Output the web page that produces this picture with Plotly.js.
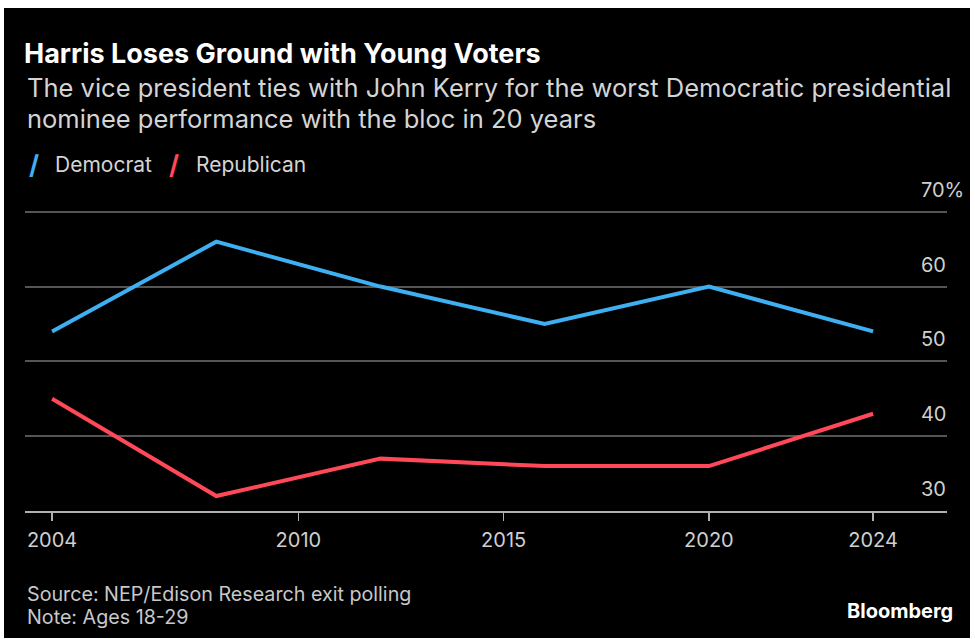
<!DOCTYPE html>
<html><head><meta charset="utf-8">
<script src="https://cdn.plot.ly/plotly-3.0.1.min.js"></script>
<style>html,body{margin:0;padding:0;background:#fff;} #chart{position:absolute;left:4px;top:8px;width:966px;height:630px;}</style>
</head><body><div id="chart"></div>
<script>
const years = [2004, 2008, 2012, 2016, 2020, 2024];
const democrat = [54, 66, 60, 55, 60, 54];
const republican = [45, 32, 37, 36, 36, 43];
const xTickVals = [2004, 2010, 2015, 2020, 2024];
const xTickText = ['2004', '2010', '2015', '2020', '2024'];
const yTickVals = [30, 40, 50, 60, 70];
const yTickText = ['30', '40', '50', '60', '70%'];
const seriesNames = ['Democrat', 'Republican'];
const BLUE = '#3eb0f2', RED = '#ff4858';
const FONT = 'Inter, "DejaVu Sans", sans-serif';

const traces = [
  {x: years, y: democrat, name: seriesNames[0], type: 'scatter', mode: 'lines',
   line: {color: BLUE, width: 4}, hoverinfo: 'skip'},
  {x: years, y: republican, name: seriesNames[1], type: 'scatter', mode: 'lines',
   line: {color: RED, width: 4}, hoverinfo: 'skip'}
];

// plot area (window px): x 25..947, y(30)=511, y(70)=212
const layout = {
  width: 966, height: 630,
  paper_bgcolor: '#000', plot_bgcolor: '#000',
  margin: {l: 21, r: 23, t: 200, b: 127},
  showlegend: false,
  font: {family: FONT, color: '#cfcfcf'},
  title: {text: 'Harris Loses Ground with Young Voters', xref: 'container', x: 0.0207, xanchor: 'left',
          yref: 'container', y: 0.927, yanchor: 'middle',
          font: {family: FONT, size: 27, color: '#fff', weight: 'bold'}},
  xaxis: {range: [2003.34, 2025.80], tickvals: xTickVals, ticktext: xTickText,
          showgrid: false, zeroline: false, showline: true, linecolor: '#b0b0b0', linewidth: 1.5,
          ticks: 'outside', ticklen: 8, tickwidth: 1.5, tickcolor: '#b0b0b0', ticklabelstandoff: 2,
          tickfont: {family: FONT, size: 20, color: '#cfcfcf'}, fixedrange: true},
  yaxis: {range: [30, 70.5], tickvals: yTickVals, ticktext: yTickText,
          side: 'right', anchor: 'free', position: 0.9685,
          showgrid: true, gridcolor: '#555555', gridwidth: 2, zeroline: false, showline: false,
          ticks: '', ticklabelshift: -22, ticklabelstandoff: 2,
          tickfont: {family: FONT, size: 20, color: '#cfcfcf'}, fixedrange: true},
  annotations: [
    {text: 'The vice president ties with John Kerry for the worst Democratic presidential', xref: 'paper', yref: 'paper',
     x: 0, y: 1.398, xanchor: 'left', yanchor: 'middle', showarrow: false, font: {family: FONT, size: 25.5, color: '#d4d4d4'}},
    {text: 'nominee performance with the bloc in 20 years', xref: 'paper', yref: 'paper',
     x: 0, y: 1.2943, xanchor: 'left', yanchor: 'middle', showarrow: false, font: {family: FONT, size: 25.5, color: '#d4d4d4'}},
    {text: '<b>/</b>', xref: 'paper', yref: 'paper', x: 0.0022, y: 1.1438, xanchor: 'left', yanchor: 'middle',
     showarrow: false, font: {family: FONT, size: 26, color: BLUE}},
    {text: seriesNames[0], xref: 'paper', yref: 'paper', x: 0.0305, y: 1.1438, xanchor: 'left', yanchor: 'middle',
     showarrow: false, font: {family: FONT, size: 21, color: '#d4d4d4'}},
    {text: '<b>/</b>', xref: 'paper', yref: 'paper', x: 0.1541, y: 1.1438, xanchor: 'left', yanchor: 'middle',
     showarrow: false, font: {family: FONT, size: 26, color: RED}},
    {text: seriesNames[1], xref: 'paper', yref: 'paper', x: 0.1834, y: 1.1438, xanchor: 'left', yanchor: 'middle',
     showarrow: false, font: {family: FONT, size: 21, color: '#d4d4d4'}},
    {text: 'Source: NEP/Edison Research exit polling', xref: 'paper', yref: 'paper', x: 0, y: -0.2742,
     xanchor: 'left', yanchor: 'middle', showarrow: false, font: {family: FONT, size: 19.7, color: '#c8c8c8'}},
    {text: 'Note: Ages 18-29', xref: 'paper', yref: 'paper', x: 0, y: -0.3512,
     xanchor: 'left', yanchor: 'middle', showarrow: false, font: {family: FONT, size: 19.7, color: '#c8c8c8'}},
    {text: '<b>Bloomberg</b>', xref: 'paper', yref: 'paper', x: 1.0087, y: -0.3311,
     xanchor: 'right', yanchor: 'middle', showarrow: false, font: {family: FONT, size: 20, color: '#fff'}}
  ]
};

Plotly.newPlot('chart', traces, layout, {displayModeBar: false, staticPlot: true});
</script>
</body></html>
